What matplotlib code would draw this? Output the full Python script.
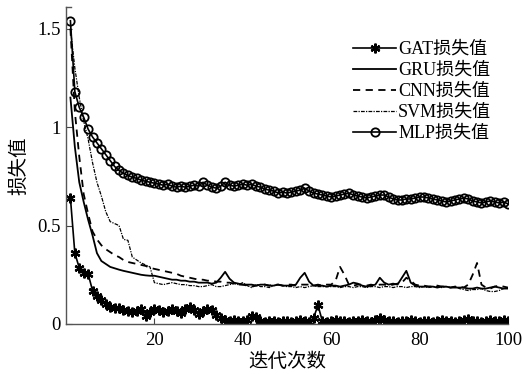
import matplotlib
matplotlib.use("Agg")
import matplotlib.pyplot as plt
import numpy as np

iterations = list(range(1, 101))

gat_loss = [0.64, 0.36, 0.285, 0.26, 0.255, 0.17, 0.14, 0.12, 0.10, 0.085,
            0.08, 0.08, 0.07, 0.065, 0.06, 0.065, 0.075, 0.04, 0.06, 0.075,
            0.07, 0.06, 0.065, 0.075, 0.065, 0.055, 0.075, 0.085, 0.07, 0.05,
            0.065, 0.075, 0.07, 0.045, 0.03, 0.02, 0.015, 0.02, 0.015, 0.015,
            0.02, 0.04, 0.035, 0.015, 0.01, 0.015, 0.015, 0.01, 0.015, 0.015,
            0.01, 0.015, 0.02, 0.015, 0.01, 0.03, 0.095, 0.015, 0.01, 0.015,
            0.02, 0.015, 0.015, 0.01, 0.015, 0.015, 0.02, 0.015, 0.01, 0.02,
            0.03, 0.02, 0.015, 0.015, 0.01, 0.015, 0.015, 0.02, 0.015, 0.01,
            0.015, 0.015, 0.01, 0.015, 0.02, 0.015, 0.015, 0.01, 0.015, 0.02,
            0.025, 0.015, 0.015, 0.01, 0.015, 0.02, 0.015, 0.015, 0.02, 0.015]

gru_loss = [1.15, 0.90, 0.72, 0.62, 0.53, 0.45, 0.36, 0.32, 0.305, 0.29,
            0.283, 0.276, 0.27, 0.265, 0.26, 0.255, 0.25, 0.247, 0.245, 0.245,
            0.24, 0.235, 0.23, 0.225, 0.225, 0.22, 0.22, 0.215, 0.215, 0.21,
            0.21, 0.21, 0.205, 0.21, 0.235, 0.265, 0.23, 0.21, 0.205, 0.2,
            0.2, 0.2, 0.195, 0.2, 0.2, 0.195, 0.195, 0.2, 0.195, 0.195,
            0.195, 0.2, 0.235, 0.26, 0.215, 0.195, 0.195, 0.195, 0.19, 0.195,
            0.195, 0.19, 0.195, 0.2, 0.21, 0.205, 0.195, 0.19, 0.195, 0.2,
            0.235, 0.21, 0.2, 0.205, 0.2, 0.235, 0.27, 0.21, 0.195, 0.19,
            0.19, 0.19, 0.19, 0.185, 0.19, 0.19, 0.185, 0.185, 0.185, 0.185,
            0.18, 0.18, 0.185, 0.18, 0.18, 0.185, 0.19, 0.185, 0.18, 0.18]

cnn_loss = [1.50, 1.08, 0.85, 0.66, 0.56, 0.47, 0.43, 0.40, 0.38, 0.365,
            0.35, 0.34, 0.325, 0.315, 0.31, 0.305, 0.30, 0.295, 0.285, 0.28,
            0.275, 0.27, 0.265, 0.26, 0.255, 0.245, 0.24, 0.235, 0.23, 0.225,
            0.225, 0.22, 0.22, 0.215, 0.215, 0.21, 0.21, 0.205, 0.2, 0.2,
            0.195, 0.19, 0.195, 0.2, 0.2, 0.195, 0.2, 0.2, 0.195, 0.2,
            0.2, 0.195, 0.2, 0.2, 0.2, 0.195, 0.2, 0.195, 0.2, 0.2,
            0.22, 0.29, 0.25, 0.2, 0.195, 0.2, 0.2, 0.195, 0.2, 0.195,
            0.2, 0.2, 0.195, 0.2, 0.205, 0.21, 0.235, 0.22, 0.2, 0.195,
            0.195, 0.19, 0.19, 0.195, 0.19, 0.19, 0.185, 0.19, 0.19, 0.185,
            0.2, 0.25, 0.31, 0.2, 0.185, 0.18, 0.19, 0.195, 0.19, 0.185]

svm_loss = [1.50, 1.30, 1.15, 1.03, 0.94, 0.82, 0.72, 0.65, 0.57, 0.52,
            0.51, 0.50, 0.43, 0.425, 0.34, 0.325, 0.31, 0.30, 0.29, 0.21,
            0.205, 0.20, 0.205, 0.21, 0.205, 0.20, 0.20, 0.195, 0.195, 0.19,
            0.19, 0.195, 0.2, 0.19, 0.19, 0.195, 0.2, 0.205, 0.2, 0.21,
            0.195, 0.185, 0.2, 0.19, 0.19, 0.185, 0.195, 0.2, 0.195, 0.19,
            0.19, 0.185, 0.19, 0.185, 0.19, 0.195, 0.19, 0.19, 0.19, 0.19,
            0.19, 0.185, 0.19, 0.19, 0.185, 0.19, 0.19, 0.185, 0.19, 0.19,
            0.185, 0.19, 0.19, 0.185, 0.19, 0.19, 0.185, 0.19, 0.19, 0.185,
            0.19, 0.185, 0.19, 0.19, 0.185, 0.19, 0.185, 0.19, 0.18, 0.175,
            0.17, 0.175, 0.175, 0.18, 0.17, 0.165, 0.165, 0.17, 0.18, 0.185]

mlp_loss = [1.54, 1.18, 1.10, 1.05, 0.99, 0.95, 0.92, 0.89, 0.86, 0.83,
            0.80, 0.78, 0.765, 0.755, 0.745, 0.74, 0.73, 0.725, 0.72, 0.715,
            0.71, 0.705, 0.71, 0.70, 0.695, 0.70, 0.695, 0.70, 0.705, 0.70,
            0.72, 0.705, 0.695, 0.69, 0.70, 0.72, 0.705, 0.70, 0.705, 0.71,
            0.705, 0.71, 0.70, 0.695, 0.685, 0.68, 0.675, 0.665, 0.67, 0.665,
            0.67, 0.675, 0.68, 0.69, 0.675, 0.665, 0.66, 0.655, 0.65, 0.645,
            0.65, 0.655, 0.66, 0.665, 0.655, 0.65, 0.645, 0.64, 0.645, 0.65,
            0.655, 0.655, 0.645, 0.635, 0.63, 0.63, 0.635, 0.635, 0.64, 0.645,
            0.645, 0.64, 0.635, 0.63, 0.625, 0.62, 0.625, 0.63, 0.635, 0.64,
            0.635, 0.625, 0.62, 0.615, 0.62, 0.625, 0.62, 0.615, 0.62, 0.61]

series_labels = ["GAT损失值", "GRU损失值", "CNN损失值", "SVM损失值", "MLP损失值"]
x_ticks = [20, 40, 60, 80, 100]
y_ticks = [0, 0.5, 1, 1.5]
y_tick_labels = ["0", "0.5", "1", "1.5"]
x_label = "迭代次数"
y_label = "损失值"

fam = ["Liberation Serif", "Noto Sans CJK SC"]
plt.rcParams["font.family"] = fam

fig = plt.figure(figsize=(5.26, 3.74), dpi=100)
ax = fig.add_axes([66 / 526, 50 / 374, 442 / 526, 317 / 374])

ax.plot(iterations, gat_loss, color="black", lw=1.2, marker=(6, 2, 0), ms=7,
        mec="black", mfc="black", mew=1.6, label=series_labels[0])
ax.plot(iterations, gru_loss, color="black", lw=1.3, ls="-", label=series_labels[1])
ax.plot(iterations, cnn_loss, color="black", lw=1.3, ls=(0, (4, 3)), label=series_labels[2])
ax.plot(iterations, svm_loss, color="black", lw=0.9, ls=(0, (3, 1, 1, 1)), label=series_labels[3])
ax.plot(iterations, mlp_loss, color="black", lw=1.2, marker="o", ms=6,
        mfc="none", mec="black", mew=1.3, label=series_labels[4])

ax.set_xlim(0, 100)
ax.set_ylim(0, 1.61)
ax.set_xticks(x_ticks)
ax.set_yticks(y_ticks)
ax.set_yticklabels(y_tick_labels)
ax.tick_params(direction="in", length=4, width=0.8, colors="#444444",
               labelsize=13.5, labelcolor="black")
ax.tick_params(axis="x", pad=6)
ax.tick_params(axis="y", pad=4)
for s in ["top", "right"]:
    ax.spines[s].set_visible(False)
for s in ["left", "bottom"]:
    ax.spines[s].set_color("#555555")
    ax.spines[s].set_linewidth(1.0)
ax.plot([0, 0.012], [1, 1], transform=ax.transAxes, color="#555555",
        lw=1.0, clip_on=False)

ax.set_xlabel(x_label, fontsize=14, labelpad=2)
ax.set_ylabel(y_label, fontsize=14, labelpad=6)

leg = ax.legend(loc="upper left", bbox_to_anchor=(287 / 442, 1 - 34 / 317),
                frameon=False, fontsize=13, handlelength=2.4, handletextpad=0.1,
                labelspacing=0.22, borderpad=0, borderaxespad=0)

fig.savefig("out.png", dpi=100)
